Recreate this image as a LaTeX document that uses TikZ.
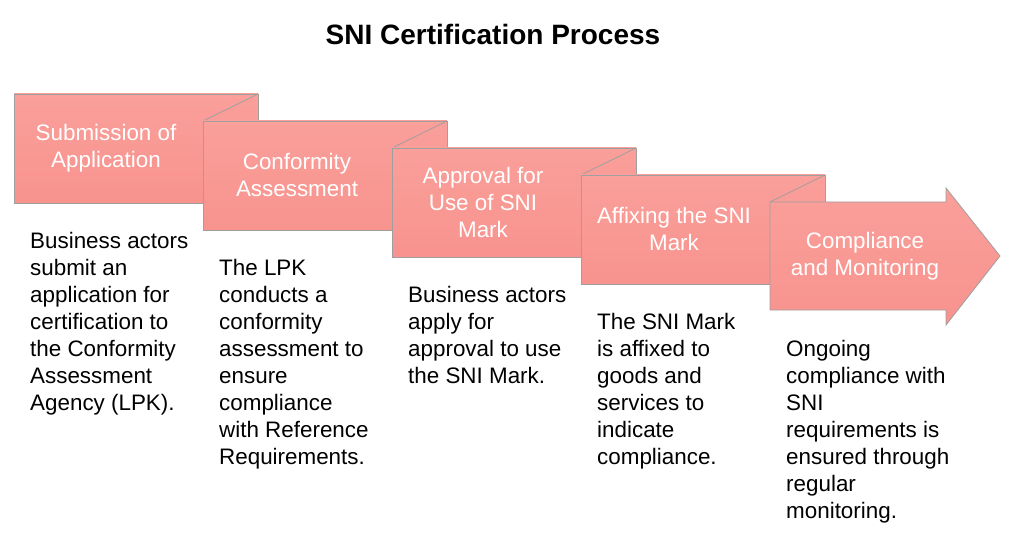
\documentclass[tikz,border=0pt]{standalone}
\usepackage{fontspec}
\setmainfont{Liberation Sans}
\begin{document}
\begin{tikzpicture}[x=1pt,y=-1pt,
  boxshape/.style={draw=gray!75, line width=0.8pt, top color=boxtop, bottom color=boxbot},
  lbl/.style={text=white, font=\fontsize{22.4}{27}\selectfont, align=center, inner sep=0pt},
  body/.style={font=\fontsize{22.4}{27}\selectfont, align=left, anchor=north west, inner sep=0pt, text=black}]
\definecolor{boxtop}{HTML}{FA9F9A}
\definecolor{boxbot}{HTML}{F8938E}
\useasboundingbox (0,0) rectangle (1014,540);
\node[font=\bfseries\fontsize{28}{32}\selectfont] (title) at (493,34) {SNI Certification Process};
\foreach \i/\x/\y in {1/14/94,2/203/121,3/392/148,4/581/175}{
  \path[boxshape] (\x,\y) rectangle ++(244,109);
  \draw[gray!75, line width=0.8pt] (\x+244,\y) -- (\x+189,\y+27);
}
\path[boxshape] (770,202) -- (946,202) -- (946,188) -- (1000,256) -- (946,325) -- (946,310) -- (770,310) -- cycle;
\node[lbl] (l1) at (106,148) {Submission of\\Application};
\node[lbl] (l2) at (297,175) {Conformity\\Assessment};
\node[lbl] (l3) at (483,202) {Approval for\\Use of SNI\\Mark};
\node[lbl] (l4) at (674,229) {Affixing the SNI\\Mark};
\node[lbl] (l5) at (865,256) {Compliance\\and Monitoring};
\node[body] (t1) at (30,232) {Business actors\\submit an\\application for\\certification to\\the Conformity\\Assessment\\Agency (LPK).};
\node[body] (t2) at (219,259) {The LPK\\conducts a\\conformity\\assessment to\\ensure\\compliance\\with Reference\\Requirements.};
\node[body] (t3) at (408,286) {Business actors\\apply for\\approval to use\\the SNI Mark.};
\node[body] (t4) at (597,313) {The SNI Mark\\is affixed to\\goods and\\services to\\indicate\\compliance.};
\node[body] (t5) at (786,340) {Ongoing\\compliance with\\SNI\\requirements is\\ensured through\\regular\\monitoring.};
\end{tikzpicture}
\end{document}
